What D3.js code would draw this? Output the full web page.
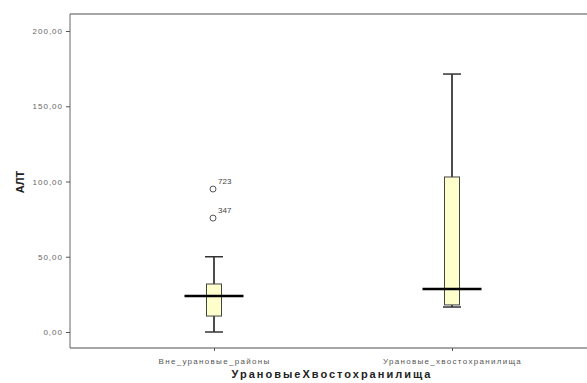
<!DOCTYPE html>
<html><head><meta charset="utf-8">
<script src="https://cdn.jsdelivr.net/npm/d3@7"></script>
<style>body{margin:0;background:#fff}svg{display:block}</style>
</head><body>
<script>
const categories = ["Вне_урановые_районы", "Урановые_хвостохранилища"];
const whiskerLow = [0, 16.6];
const q1 = [10.6, 18];
const median = [24, 28.6];
const q3 = [31.9, 103];
const whiskerHigh = [50, 171.4];
const outlierValues = [[95, 75.7], []];
const outlierLabels = [["723", "347"], []];
const yTicks = [0, 50, 100, 150, 200];

(function () {
const W = 587, H = 383;
const svg = d3.select("body").append("svg").attr("width", W).attr("height", H);
const mLeft = 70, mRight = 587, mTop = 14, mBottom = 348;
const font = "Arial, Liberation Sans, sans-serif";

const y = d3.scaleLinear().domain([0, 200]).range([332, 31]);
const x = d3.scalePoint().domain(categories).range([214, 452]);

// frame
svg.append("line").attr("x1", mLeft).attr("x2", mRight).attr("y1", mTop).attr("y2", mTop).attr("stroke", "#888").attr("stroke-width", 1.5);
svg.append("line").attr("x1", mLeft).attr("x2", mRight).attr("y1", mBottom).attr("y2", mBottom).attr("stroke", "#888").attr("stroke-width", 1.5);
svg.append("line").attr("x1", mLeft).attr("x2", mLeft).attr("y1", mTop).attr("y2", mBottom).attr("stroke", "#666").attr("stroke-width", 1);

// y axis
const fmt = d => d3.format(".2f")(d).replace(".", ",");
const yAxis = d3.axisLeft(y).tickValues(yTicks).tickFormat(fmt).tickSize(4).tickPadding(3);
const gy = svg.append("g").attr("transform", `translate(${mLeft},0)`).call(yAxis);
gy.select(".domain").remove();
gy.selectAll(".tick line").attr("stroke", "#555");
gy.selectAll("text").attr("font-family", font).attr("font-size", 8).attr("letter-spacing", 1).attr("fill", "#666");

// x axis
const xAxis = d3.axisBottom(x).tickSize(3).tickPadding(7);
const gx = svg.append("g").attr("transform", `translate(0,${mBottom})`).call(xAxis);
gx.select(".domain").remove();
gx.selectAll(".tick line").attr("stroke", "#555");
gx.selectAll("text").attr("font-family", font).attr("font-size", 8).attr("letter-spacing", 1.3).attr("fill", "#555");

// titles
svg.append("text").attr("x", 332).attr("y", 378).attr("text-anchor", "middle")
  .attr("font-family", font).attr("font-weight", "bold").attr("font-size", 11)
  .attr("letter-spacing", 2).attr("fill", "#222").text("УрановыеХвостохранилища");
svg.append("text").attr("transform", "translate(24,182) rotate(-90)").attr("text-anchor", "middle")
  .attr("font-family", font).attr("font-weight", "bold").attr("font-size", 11)
  .attr("fill", "#222").text("АЛТ");

// boxes
const boxW = 15, capW = 18, medW = 59;
categories.forEach((c, i) => {
  const cx = x(c);
  const g = svg.append("g");
  g.append("line").attr("x1", cx).attr("x2", cx).attr("y1", y(whiskerHigh[i])).attr("y2", y(q3[i])).attr("stroke", "#111").attr("stroke-width", 1.5);
  g.append("line").attr("x1", cx).attr("x2", cx).attr("y1", y(q1[i])).attr("y2", y(whiskerLow[i])).attr("stroke", "#111").attr("stroke-width", 1.5);
  g.append("line").attr("x1", cx - capW / 2).attr("x2", cx + capW / 2).attr("y1", y(whiskerHigh[i])).attr("y2", y(whiskerHigh[i])).attr("stroke", "#333").attr("stroke-width", 1.5);
  g.append("line").attr("x1", cx - capW / 2).attr("x2", cx + capW / 2).attr("y1", y(whiskerLow[i])).attr("y2", y(whiskerLow[i])).attr("stroke", "#333").attr("stroke-width", 1.5);
  g.append("rect").attr("x", cx - boxW / 2).attr("width", boxW).attr("y", y(q3[i])).attr("height", y(q1[i]) - y(q3[i]))
    .attr("fill", "#ffffcc").attr("stroke", "#444").attr("stroke-width", 1);
  g.append("line").attr("x1", cx - medW / 2).attr("x2", cx + medW / 2).attr("y1", y(median[i])).attr("y2", y(median[i])).attr("stroke", "#000").attr("stroke-width", 2.5);
  outlierValues[i].forEach((v, j) => {
    g.append("circle").attr("cx", cx - 1).attr("cy", y(v)).attr("r", 3).attr("fill", "none").attr("stroke", "#555").attr("stroke-width", 1);
    g.append("text").attr("x", cx + 4).attr("y", y(v) - 5).attr("font-family", font).attr("font-size", 8).attr("fill", "#444").text(outlierLabels[i][j]);
  });
});
})();
</script>
</body></html>
